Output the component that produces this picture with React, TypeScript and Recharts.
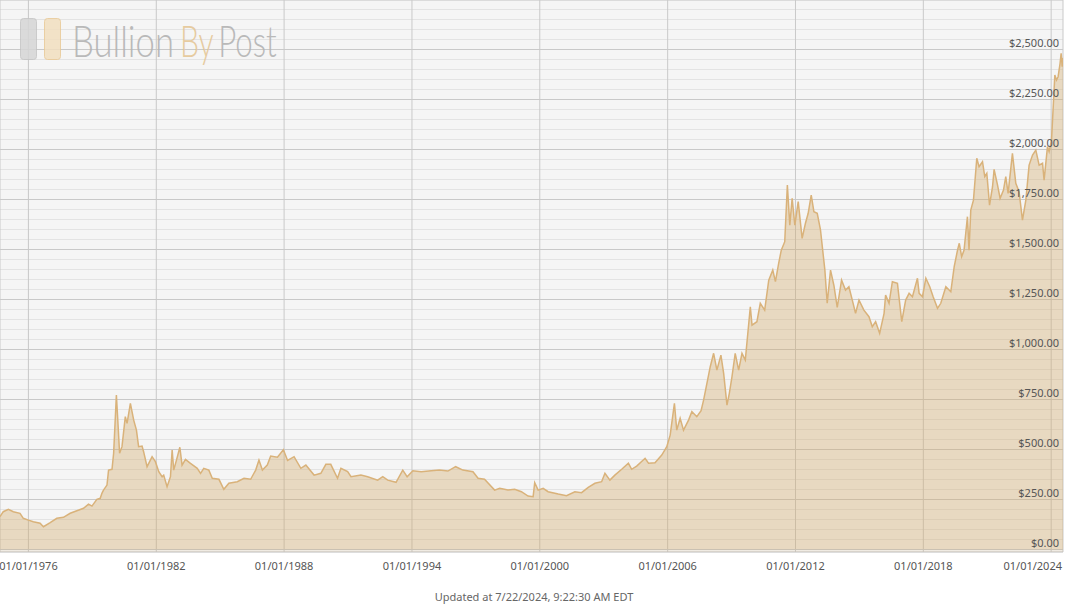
import React from "react";
import {
    ComposedChart,
    Area,
    XAxis,
    YAxis,
    CartesianGrid,
    ReferenceArea,
} from "recharts";

// gold price
const dates = [
    "1974-09-01", "1974-10-27", "1975-01-22", "1975-04-17", "1975-08-10", "1975-10-06",
    "1976-01-01", "1976-03-25", "1976-07-19", "1976-09-15", "1977-01-08", "1977-05-02",
    "1977-08-24", "1977-12-17", "1978-04-11", "1978-08-03", "1978-10-27", "1978-12-25",
    "1979-03-19", "1979-05-16", "1979-06-14", "1979-07-11", "1979-09-09", "1979-10-06",
    "1979-12-04", "1980-01-01", "1980-02-17", "1980-03-09", "1980-04-12", "1980-05-23",
    "1980-07-19", "1980-08-18", "1980-10-14", "1980-12-10", "1981-01-26", "1981-03-04",
    "1981-05-02", "1981-05-29", "1981-07-27", "1981-10-21", "1981-12-17", "1982-02-13",
    "1982-04-11", "1982-05-08", "1982-07-05", "1982-09-01", "1982-09-30", "1982-10-27",
    "1982-12-13", "1983-02-09", "1983-03-19", "1983-05-16", "1983-08-10", "1983-12-04",
    "1984-01-30", "1984-03-25", "1984-06-20", "1984-08-18", "1984-12-10", "1985-03-04",
    "1985-05-29", "1985-10-21", "1986-02-13", "1986-06-07", "1986-09-01", "1986-10-27",
    "1986-12-25", "1987-03-19", "1987-05-16", "1987-09-09", "1987-12-20", "1988-03-01",
    "1988-06-20", "1988-10-14", "1989-01-08", "1989-05-29", "1989-09-22", "1989-12-17",
    "1990-03-11", "1990-07-05", "1990-09-01", "1990-12-25", "1991-02-21", "1991-08-10",
    "1991-12-04", "1992-05-23", "1992-08-18", "1992-11-12", "1993-04-03", "1993-07-27",
    "1993-10-10", "1994-01-16", "1994-06-07", "1994-11-26", "1995-04-17", "1995-09-09",
    "1996-01-20", "1996-05-23", "1996-11-12", "1997-02-07", "1997-05-29", "1997-11-18",
    "1998-02-13", "1998-07-05", "1998-10-27", "1999-02-20", "1999-06-14", "1999-09-09",
    "1999-10-06", "1999-12-04", "2000-02-28", "2000-05-23", "2000-11-12", "2001-04-03",
    "2001-08-24", "2001-12-17", "2002-04-11", "2002-08-03", "2002-11-26", "2003-01-22",
    "2003-04-17", "2003-07-11", "2003-11-05", "2004-02-28", "2004-04-24", "2004-07-19",
    "2004-12-10", "2005-02-07", "2005-05-29", "2005-09-22", "2005-12-17", "2006-02-13",
    "2006-04-27", "2006-06-06", "2006-08-03", "2006-09-30", "2006-12-25", "2007-02-20",
    "2007-05-16", "2007-07-28", "2007-09-09", "2007-11-05", "2008-01-01", "2008-02-28",
    "2008-04-24", "2008-07-02", "2008-08-18", "2008-10-14", "2008-11-23", "2009-01-08",
    "2009-03-04", "2009-05-02", "2009-06-28", "2009-08-24", "2009-11-18", "2009-12-17",
    "2010-03-11", "2010-05-08", "2010-07-22", "2010-09-30", "2010-12-08", "2011-01-22",
    "2011-03-19", "2011-05-03", "2011-07-01", "2011-08-15", "2011-09-26", "2011-11-05",
    "2011-12-21", "2012-02-17", "2012-04-24", "2012-06-20", "2012-08-06", "2012-09-27",
    "2012-11-12", "2013-01-08", "2013-03-04", "2013-05-19", "2013-06-28", "2013-08-24",
    "2013-10-21", "2013-12-17", "2014-03-01", "2014-05-08", "2014-07-05", "2014-09-01",
    "2014-10-27", "2014-12-25", "2015-03-19", "2015-06-14", "2015-08-10", "2015-10-06",
    "2015-12-14", "2016-02-28", "2016-03-25", "2016-05-23", "2016-07-19", "2016-10-14",
    "2016-12-27", "2017-03-04", "2017-05-02", "2017-06-28", "2017-09-22", "2017-10-21",
    "2017-12-17", "2018-02-13", "2018-04-21", "2018-06-18", "2018-09-01", "2018-10-27",
    "2019-01-22", "2019-04-17", "2019-06-14", "2019-08-10", "2019-09-09", "2019-10-20",
    "2019-11-30", "2019-12-29", "2020-01-27", "2020-02-23", "2020-03-24", "2020-05-09",
    "2020-07-05", "2020-08-13", "2020-10-11", "2020-11-19", "2020-12-24", "2021-02-09",
    "2021-04-01", "2021-04-28", "2021-06-26", "2021-08-09", "2021-10-06", "2021-11-14",
    "2021-12-24", "2022-03-08", "2022-05-05", "2022-06-30", "2022-08-27", "2022-10-24",
    "2022-12-19", "2023-02-16", "2023-04-13", "2023-06-09", "2023-08-06", "2023-09-02",
    "2023-10-30", "2023-11-27", "2024-01-07", "2024-02-11", "2024-03-04", "2024-04-02",
    "2024-04-29", "2024-06-02", "2024-06-20", "2024-07-08", "2024-07-22",
];

const prices = [
    164, 189, 201, 189, 181, 156,
    147, 139, 131, 114, 134, 156,
    161, 181, 194, 206, 227, 217,
    251, 256, 281, 297, 322, 397,
    401, 481, 772, 664, 481, 514,
    664, 631, 731, 647, 597, 514,
    517, 489, 414, 464, 439, 389,
    364, 372, 314, 364, 497, 397,
    447, 511, 422, 451, 431, 406,
    381, 406, 397, 356, 351, 301,
    331, 339, 356, 351, 397, 447,
    397, 422, 467, 461, 499, 445,
    464, 406, 422, 372, 381, 426,
    426, 356, 406, 389, 364, 372,
    364, 347, 364, 347, 336, 397,
    364, 394, 389, 394, 397, 392,
    414, 397, 389, 356, 351, 297,
    306, 297, 301, 289, 267, 264,
    334, 297, 306, 289, 277, 269,
    289, 284, 311, 331, 339, 381,
    347, 372, 401, 431, 401, 417,
    456, 431, 434, 472, 514, 572,
    731, 597, 656, 597, 647, 689,
    664, 694, 747, 831, 914, 981,
    897, 972, 881, 722, 781, 864,
    981, 897, 981, 947, 1214, 1122,
    1139, 1231, 1197, 1347, 1397, 1339,
    1431, 1497, 1539, 1822, 1622, 1756,
    1622, 1739, 1556, 1631, 1681, 1772,
    1689, 1681, 1600, 1397, 1231, 1397,
    1320, 1210, 1347, 1297, 1314, 1247,
    1181, 1247, 1197, 1164, 1114, 1139,
    1081, 1181, 1272, 1231, 1339, 1331,
    1139, 1247, 1281, 1264, 1356, 1281,
    1264, 1356, 1314, 1264, 1206, 1231,
    1314, 1289, 1414, 1497, 1531, 1464,
    1497, 1581, 1664, 1497, 1697, 1747,
    1956, 1914, 1939, 1864, 1881, 1722,
    1814, 1901, 1822, 1756, 1797, 1864,
    1781, 1981, 1831, 1789, 1647, 1747,
    1922, 1972, 1997, 1922, 1931, 1847,
    2014, 1989, 2047, 2247, 2372, 2347,
    2364, 2431, 2481, 2414, 2458,
];

const tickYears = [1976, 1982, 1988, 1994, 2000, 2006, 2012, 2018, 2024];
const majorTicks = [0, 250, 500, 750, 1000, 1250, 1500, 1750, 2000, 2250, 2500];
const minorTicks = Array.from({ length: 55 }, (_, i) => i * 50);

const updatedText = "Updated at 7/22/2024, 9:22:30 AM EDT";

const data = dates.map((d, i) => ({ t: Date.parse(d), price: prices[i] }));
const xTicks = tickYears.map((y) => Date.UTC(y, 0, 1));
const yDomain = [-12.5, 2747.5];
const PLOT_RIGHT = 1062;

const pad = (n: number) => (n < 10 ? "0" + n : "" + n);
const fmtDate = (t: number) => {
    const d = new Date(t);
    return `${pad(d.getUTCMonth() + 1)}/${pad(d.getUTCDate())}/${d.getUTCFullYear()}`;
};
const fmtPrice = (v: number) =>
    "$" + v.toLocaleString("en-US", { minimumFractionDigits: 2, maximumFractionDigits: 2 });

const PriceTick = ({ x, y, payload }: any) => (
    <text x={x} y={y - 3} textAnchor="end" fontSize={11} fill="#555" fontFamily="Noto Sans">
        {fmtPrice(payload.value)}
    </text>
);

// last label is pushed inside the plot, like the original
const DateTick = ({ x, y, payload }: any) => {
    const half = 29;
    const overflow = x + half > PLOT_RIGHT;
    return (
        <text
            x={overflow ? PLOT_RIGHT : x}
            y={y + 16}
            textAnchor={overflow ? "end" : "middle"}
            fontSize={11}
            fill="#555"
            fontFamily="Noto Sans"
        >
            {fmtDate(payload.value)}
        </text>
    );
};

// watermark, squeezed horizontally like the condensed original
const Logo = () => (
    <svg width={300} height={80} style={{ position: "absolute", left: 0, top: 0, pointerEvents: "none" }}>
        <rect x={20.5} y={18.5} width={16} height={41} rx={3} fill="#d6d6d6" stroke="#c4c4c4" opacity={0.85} />
        <rect x={44.5} y={18.5} width={16} height={41} rx={3} fill="#f2dfc0" stroke="#e9c995" opacity={0.85} />
        <g transform="scale(0.75,1)" opacity={0.9} fontSize={44} fontFamily="Lato" fontWeight={300}>
            <text x={96} y={57} fill="#b3b3b3" textLength={136} lengthAdjust="spacingAndGlyphs">Bullion</text>
            <text x={240} y={57} fill="#e5c797" textLength={45} lengthAdjust="spacingAndGlyphs">By</text>
            <text x={291} y={57} fill="#b3b3b3" textLength={78} lengthAdjust="spacingAndGlyphs">Post</text>
        </g>
    </svg>
);

export default function App() {
    return (
        <div style={{ position: "fixed", left: 0, top: 0, width: 1068, height: 613, background: "#fff" }}>
            <ComposedChart
                width={1068}
                height={613}
                data={data}
                margin={{ top: 0, right: 5, left: 0, bottom: 0 }}
            >
                <CartesianGrid
                    fill="#f5f5f5"
                    stroke="#e3e3e3"
                    vertical={false}
                    yAxisId="minor"
                />
                <CartesianGrid stroke="#c9c9c9" />
                <ReferenceArea y1={-12.5} y2={0} fill="#d0a560" fillOpacity={0.12} stroke="none" />
                <XAxis
                    dataKey="t"
                    type="number"
                    scale="time"
                    domain={[Date.UTC(1974, 8, 1), Date.UTC(2024, 6, 22)]}
                    allowDataOverflow
                    ticks={xTicks}
                    interval={0}
                    axisLine={false}
                    tickLine={false}
                    tickSize={0}
                    tickMargin={2}
                    height={61}
                    tick={<DateTick />}
                />
                <YAxis
                    yAxisId="minor"
                    orientation="right"
                    hide
                    domain={yDomain}
                    allowDataOverflow
                    ticks={minorTicks}
                    interval={0}
                />
                <YAxis
                    orientation="right"
                    mirror
                    width={1}
                    domain={yDomain}
                    allowDataOverflow
                    ticks={majorTicks}
                    interval={0}
                    axisLine={false}
                    tickLine={false}
                    tickSize={0}
                    tickMargin={4}
                    tick={<PriceTick />}
                />
                <Area
                    type="linear"
                    dataKey="price"
                    stroke="#d9b27a"
                    strokeWidth={1.5}
                    fill="#d0a560"
                    fillOpacity={0.35}
                    baseValue={0}
                    isAnimationActive={false}
                    dot={false}
                    activeDot={false}
                />
            </ComposedChart>
            <Logo />
            <div
                style={{
                    position: "absolute",
                    left: 0,
                    top: 590,
                    width: 1068,
                    textAlign: "center",
                    fontSize: 11,
                    lineHeight: "14px",
                    color: "#666",
                    fontFamily: "Noto Sans",
                }}
            >
                {updatedText}
            </div>
        </div>
    );
}
